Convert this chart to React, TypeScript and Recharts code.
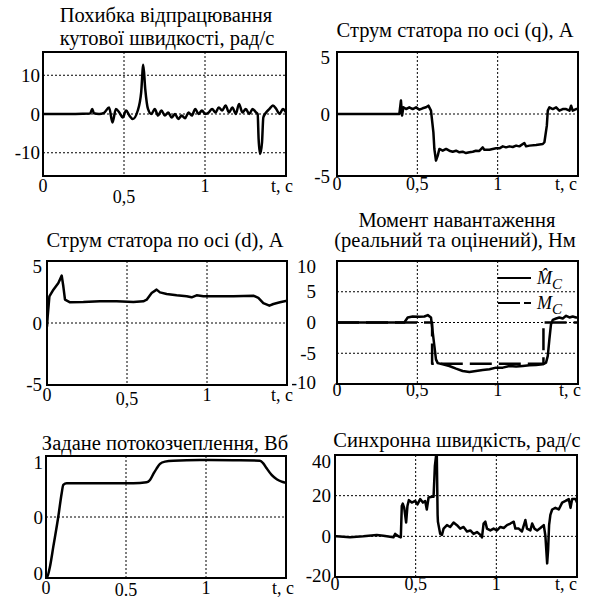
import React from 'react';
import { LineChart, Line, XAxis, YAxis, CartesianGrid, ReferenceArea } from 'recharts';

const FONT = "'Liberation Serif', 'Times New Roman', Tinos, 'Noto Serif', 'DejaVu Serif', Times, serif";

type Pt = [number, number];

// time axis
const timeTicks = [0, 0.5, 1, 1.5];
const timeLabelsComma = ['0', '0,5', '1', 't, c'];
const timeLabelsDot = ['0', '0.5', '1', 't, c'];

// Panel 1: speed tracking error, rad/s
const speedErrorPts: Pt[] = [
  [0, 0], [0.2, 0], [0.29, 0.1], [0.304, 1.3], [0.314, 0.2], [0.346, 0], [0.377, 0.3], [0.408, 1.7],
  [0.429, -2.2], [0.45, 1.3], [0.471, 0.4], [0.492, -0.9], [0.513, 0.9], [0.533, -0.4], [0.554, -1.3],
  [0.585, 0.9], [0.606, 5.6], [0.619, 12.7], [0.631, 6.5], [0.648, 1.3], [0.669, 0], [0.69, 1.3],
  [0.71, -0.4], [0.731, 0.9], [0.752, -0.4], [0.773, 0.4], [0.794, -0.9], [0.815, 0], [0.835, -1.3],
  [0.856, -0.4], [0.877, -1.1], [0.898, 0.4], [0.919, -0.4], [0.94, 1.3], [0.96, 0], [0.981, 0.9],
  [1.002, 0], [1.023, 0.4], [1.044, 1.3], [1.065, 0.4], [1.085, 1.7], [1.106, 0.9], [1.127, 2.2],
  [1.148, 0.4], [1.169, 1.7], [1.19, 0], [1.21, 2.6], [1.231, 0.4], [1.252, 1.3], [1.273, 0],
  [1.294, 1.3], [1.315, 0.4], [1.325, 0], [1.331, -6.5], [1.34, -10.3], [1.352, -7.3], [1.36, -0.9],
  [1.377, 0.4], [1.398, 1.3], [1.419, 2.2], [1.44, 1.3], [1.46, 0], [1.481, 1.3], [1.5, 0.4],
];

// Panel 2: stator current, q axis, A
const currentQPts: Pt[] = [
  [0, 0], [0.388, 0], [0.398, 1.08], [0.405, -0.13], [0.413, 0.54], [0.43, 0.4], [0.45, 0.54],
  [0.471, 0.4], [0.492, 0.54], [0.513, 0.35], [0.533, 0.46], [0.554, 0.54], [0.569, 0.67], [0.585, 0.27],
  [0.6, -1.48], [0.606, -2.82], [0.616, -3.76], [0.627, -3.36], [0.637, -2.82], [0.658, -2.96],
  [0.679, -2.82], [0.699, -2.96], [0.72, -3.04], [0.741, -2.96], [0.762, -3.09], [0.782, -3.04],
  [0.803, -3.15], [0.824, -3.09], [0.845, -3.04], [0.865, -2.96], [0.886, -2.98], [0.907, -2.69],
  [0.917, -2.88], [0.949, -2.88], [0.969, -2.82], [0.99, -2.77], [1.011, -2.77], [1.032, -2.61],
  [1.052, -2.69], [1.073, -2.61], [1.094, -2.66], [1.115, -2.55], [1.135, -2.61], [1.166, -2.34],
  [1.177, -2.61], [1.198, -2.55], [1.239, -2.5], [1.281, -2.42], [1.291, -2.28], [1.306, -0.94],
  [1.312, 0.27], [1.322, 0.54], [1.343, 0.4], [1.364, 0.54], [1.384, 0.27], [1.405, 0.4], [1.426, 0.4],
  [1.447, 0.27], [1.457, 0.67], [1.467, 0.27], [1.488, 0.4], [1.5, 0.4],
];

// Panel 3: stator current, d axis, A
const currentDPts: Pt[] = [
  [0, -0.3], [0.004, 0.5], [0.015, 2.15], [0.04, 2.69], [0.071, 3.23], [0.092, 3.82], [0.102, 2.96],
  [0.1125, 1.88], [0.144, 1.67], [0.227, 1.69], [0.331, 1.75], [0.435, 1.75], [0.54, 1.69], [0.602, 1.75],
  [0.623, 1.88], [0.654, 2.42], [0.685, 2.69], [0.706, 2.47], [0.748, 2.34], [0.81, 2.23], [0.873, 2.15],
  [0.904, 2.07], [0.935, 2.23], [0.977, 2.15], [1.06, 2.15], [1.165, 2.15], [1.29, 2.2], [1.321, 2.02],
  [1.352, 1.61], [1.39, 1.4], [1.415, 1.53], [1.456, 1.67], [1.5, 1.8],
];

// Panel 4: load torque, estimated (solid) and real (dashed), Nm
const torqueEstPts: Pt[] = [
  [0, 0], [0.419, 0], [0.44, 0.82], [0.471, 0.98], [0.513, 0.92], [0.544, 0.98], [0.565, 1.2],
  [0.585, 0.82], [0.596, -1.63], [0.606, -3.8], [0.616, -6], [0.627, -6.6], [0.658, -6.8], [0.699, -7.07],
  [0.741, -7.5], [0.782, -7.88], [0.824, -8.04], [0.865, -7.88], [0.907, -7.72], [0.949, -7.6],
  [0.99, -7.34], [1.032, -7.34], [1.073, -7.07], [1.115, -7.17], [1.156, -7.07], [1.198, -6.96],
  [1.239, -6.9], [1.281, -6.8], [1.301, -6.52], [1.312, -5.43], [1.322, -2.72], [1.332, -0.27],
  [1.343, 0.43], [1.364, 0.65], [1.384, 0.82], [1.405, 0.65], [1.426, 1.09], [1.447, 0.82],
  [1.467, 0.98], [1.488, 0.82], [1.5, 0.82],
];
const torqueRealPts: Pt[] = [
  [0, 0], [0.592, 0], [0.592, -6.7], [1.285, -6.7], [1.285, 0], [1.5, 0],
];

// Panel 5: flux linkage reference, Wb
const fluxPts: Pt[] = [
  [0, 0], [0.004, 0], [0.025, 0.095], [0.046, 0.259], [0.077, 0.504], [0.098, 0.695], [0.108, 0.763],
  [0.129, 0.777], [0.233, 0.777], [0.546, 0.777], [0.629, 0.785], [0.65, 0.804], [0.671, 0.853],
  [0.692, 0.899], [0.7125, 0.935], [0.744, 0.954], [0.796, 0.962], [0.9625, 0.967], [1.17, 0.965],
  [1.3375, 0.962], [1.358, 0.94], [1.379, 0.899], [1.41, 0.845], [1.442, 0.81], [1.473, 0.79],
  [1.494, 0.782], [1.5, 0.78],
];

// Panel 6: synchronous speed, rad/s
const syncSpeedPts: Pt[] = [
  [0, 0], [0.01, 0], [0.093, -0.5], [0.176, 0], [0.259, 0.7], [0.3, 0.3], [0.362, -0.5], [0.373, 1.2],
  [0.393, 0], [0.408, -0.5], [0.414, 14.9], [0.42, 16.1], [0.429, 14.0], [0.441, 6.8], [0.449, 14.9],
  [0.458, 17.8], [0.476, 16.6], [0.497, 17.4], [0.511, 15.7], [0.528, 18.3], [0.545, 16.6], [0.559, 17.4],
  [0.569, 13.2], [0.58, 19.1], [0.6, 19.5], [0.611, 19.5], [0.619, 34.5], [0.627, 40], [0.631, 39.7],
  [0.636, 10.6], [0.638, 7.2], [0.652, 1.2], [0.663, 0.7], [0.673, 3.8], [0.694, 5.5], [0.714, 4.6],
  [0.735, 6.8], [0.756, 5.5], [0.776, 3.8], [0.797, 4.6], [0.818, 2.4], [0.839, 2.9], [0.859, 1.2],
  [0.88, 2.1], [0.901, 0.7], [0.911, -0.5], [0.921, 6.3], [0.932, 7.2], [0.942, 3.8], [0.963, 2.9],
  [0.983, 3.8], [1.004, 2.9], [1.025, 4.6], [1.046, 4.1], [1.066, 5.5], [1.087, 6.3], [1.108, 7.2],
  [1.118, 3.8], [1.139, 3.8], [1.159, 2.4], [1.18, 8.0], [1.19, 3.8], [1.211, 2.9], [1.222, 6.3],
  [1.236, 3.8], [1.253, 2.9], [1.273, 4.1], [1.294, 5.5], [1.304, 0.3], [1.315, -13.3], [1.321, -6.5],
  [1.327, 5.5], [1.335, 10.6], [1.346, 13.2], [1.366, 14.0], [1.387, 13.2], [1.408, 16.6], [1.429, 17.4],
  [1.449, 18.3], [1.46, 14.0], [1.47, 18.3], [1.491, 18.3], [1.5, 16.6],
];

// Titles
const title1 = ['Похибка відпрацювання', 'кутової швидкості, рад/с'];
const title2 = ['Струм статора по осі (q), А'];
const title3 = ['Струм статора по осі (d), А'];
const title4 = ['Момент навантаження', '(реальний та оцінений), Нм'];
const title5 = ['Задане потокозчеплення, Вб'];
const title6 = ['Синхронна швидкість, рад/с'];

interface Series { pts: Pt[]; dash?: string; type?: 'linear' | 'monotone'; }
interface PanelCfg {
  box: [number, number, number, number];
  yDomain: [number, number];
  yTicks: number[];
  yLabels: string[];
  yGap: number;
  yTopShift: number;
  yBottomShift: number;
  xLabels: string[];
  xBase: number;
  xMidDrop: number;
  xLastDx: number;
  series: Series[];
  titles: string[];
  titlePos: [number, number][];
}

const panels: PanelCfg[] = [
  {
    box: [43, 52, 243, 124], yDomain: [-16, 16], yTicks: [-10, 0, 10], yLabels: ['-10', '0', '10'],
    yGap: 3, yTopShift: 0, yBottomShift: 0, xLabels: timeLabelsComma, xBase: 16, xMidDrop: 11, xLastDx: -4,
    series: [{ pts: speedErrorPts, type: 'monotone' }], titles: title1, titlePos: [[166, 22], [167, 45]],
  },
  {
    box: [337, 52, 241, 124], yDomain: [-5, 5], yTicks: [-5, 0, 5], yLabels: ['-5', '0', '5'],
    yGap: 7, yTopShift: 5, yBottomShift: 0, xLabels: timeLabelsComma, xBase: 14, xMidDrop: 0, xLastDx: -12,
    series: [{ pts: currentQPts }], titles: title2, titlePos: [[455, 37]],
  },
  {
    box: [47, 261, 240, 124], yDomain: [-5, 5], yTicks: [-5, 0, 5], yLabels: ['-5', '0', '5'],
    yGap: 5, yTopShift: 5, yBottomShift: -1, xLabels: timeLabelsComma, xBase: 16, xMidDrop: 4, xLastDx: -5,
    series: [{ pts: currentDPts }], titles: title3, titlePos: [[165, 247]],
  },
  {
    box: [337, 261, 241, 123], yDomain: [-10, 10], yTicks: [-10, -5, 0, 5, 10], yLabels: ['-10', '-5', '0', '5', '10'],
    yGap: 21, yTopShift: 5, yBottomShift: -2, xLabels: timeLabelsComma, xBase: 12, xMidDrop: 0, xLastDx: -8,
    series: [{ pts: torqueRealPts, dash: '22 7' }, { pts: torqueEstPts }], titles: title4, titlePos: [[457, 227], [455, 247]],
  },
  {
    box: [46, 456, 240, 122], yDomain: [0, 1], yTicks: [0, 0.5, 1], yLabels: ['0', '0', '1'],
    yGap: 3, yTopShift: 6, yBottomShift: -5, xLabels: timeLabelsDot, xBase: 16, xMidDrop: 2, xLastDx: -3,
    series: [{ pts: fluxPts, type: 'monotone' }], titles: title5, titlePos: [[165, 450]],
  },
  {
    box: [335, 455, 242, 122], yDomain: [-20, 40], yTicks: [-20, 0, 20, 40], yLabels: ['-20', '0', '20', '40'],
    yGap: 4, yTopShift: 6, yBottomShift: -2, xLabels: timeLabelsComma, xBase: 13, xMidDrop: 0, xLastDx: -11,
    series: [{ pts: syncSpeedPts }], titles: title6, titlePos: [[457, 447]],
  },
];

const ML = 45;
const MT = 12;
const MR = 30;
const XH = 34;
const TITLE_SIZE = 20.5;

function Panel({ cfg }: { cfg: PanelCfg }) {
  const [bx, by, bw, bh] = cfg.box;
  const [yMin, yMax] = cfg.yDomain;

  const XTick = (props: any) => {
    const { x, y, payload, index } = props;
    const i = typeof index === 'number' ? index : timeTicks.indexOf(payload.value);
    const label = cfg.xLabels[i] ?? String(payload.value);
    let dy = cfg.xBase;
    let dx = 0;
    if (payload.value === 0.5) dy += cfg.xMidDrop;
    if (payload.value === 1.5) dx = cfg.xLastDx;
    return (
      <text x={x + dx} y={y + dy} textAnchor="middle" style={{ fontFamily: FONT, fontSize: 18 }} fill="#000">
        {label}
      </text>
    );
  };

  const YTick = (props: any) => {
    const { x, y, payload } = props;
    const i = cfg.yTicks.indexOf(payload.value);
    const label = cfg.yLabels[i] ?? String(payload.value);
    let dy = 6.5;
    if (payload.value === yMax) dy += cfg.yTopShift;
    if (payload.value === yMin) dy += cfg.yBottomShift;
    return (
      <text x={x - cfg.yGap} y={y + dy} textAnchor="end" style={{ fontFamily: FONT, fontSize: 19 }} fill="#000">
        {label}
      </text>
    );
  };

  return (
    <div style={{ position: 'absolute', left: bx - ML, top: by - MT }}>
      <LineChart width={bw + ML + MR} height={bh + MT + XH} margin={{ top: MT, right: MR, bottom: 0, left: 0 }}>
        <CartesianGrid stroke="#000" strokeDasharray="2 2" strokeWidth={1} />
        <XAxis
          dataKey="t" type="number" domain={[0, 1.5]} ticks={timeTicks} interval={0}
          axisLine={false} tickLine={false} tickSize={0} tickMargin={0} height={XH} tick={XTick} allowDataOverflow
        />
        <YAxis
          type="number" domain={cfg.yDomain} ticks={cfg.yTicks} interval={0} width={ML}
          axisLine={false} tickLine={false} tickSize={0} tickMargin={0} tick={YTick} allowDataOverflow
        />
        {cfg.series.map((s, i) => (
          <Line
            key={i}
            data={s.pts.map(([t, v]) => ({ t, ['v' + i]: v }))}
            dataKey={'v' + i}
            type={s.type ?? 'linear'}
            stroke="#000"
            strokeWidth={2.5}
            strokeDasharray={s.dash}
            strokeLinejoin="round"
            dot={false}
            activeDot={false}
            isAnimationActive={false}
          />
        ))}
        <ReferenceArea x1={0} x2={1.5} y1={yMin} y2={yMax} fill="none" fillOpacity={0} stroke="#000" strokeWidth={2} ifOverflow="visible" />
      </LineChart>
    </div>
  );
}

export default function App() {
  return (
    <div style={{ position: 'absolute', left: 0, top: 0, width: 592, height: 600, background: '#fff', overflow: 'hidden', fontFamily: FONT }}>
      {panels.map((p, i) => <Panel key={i} cfg={p} />)}
      <svg width={592} height={600} style={{ position: 'absolute', left: 0, top: 0, pointerEvents: 'none' }}>
        {panels.map((p, i) =>
          p.titles.map((t, j) => (
            <text key={`${i}-${j}`} x={p.titlePos[j][0]} y={p.titlePos[j][1]} textAnchor="middle" style={{ fontFamily: FONT, fontSize: TITLE_SIZE }} fill="#000">
              {t}
            </text>
          ))
        )}
        {/* Legend for torque panel */}
        <g style={{ fontFamily: FONT, fontStyle: 'italic' }} fill="#000">
          <line x1={498} y1={278} x2={531} y2={278} stroke="#000" strokeWidth={2} />
          <text x={537} y={284} style={{ fontSize: 18 }}>
            {'M\u0302'}
            <tspan dy={5} style={{ fontSize: 15 }}>C</tspan>
          </text>
          <line x1={498} y1={303} x2={531} y2={303} stroke="#000" strokeWidth={2} strokeDasharray="22 4 8 100" />
          <text x={537} y={309} style={{ fontSize: 18 }}>
            M
            <tspan dy={5} style={{ fontSize: 15 }}>C</tspan>
          </text>
        </g>
      </svg>
    </div>
  );
}
